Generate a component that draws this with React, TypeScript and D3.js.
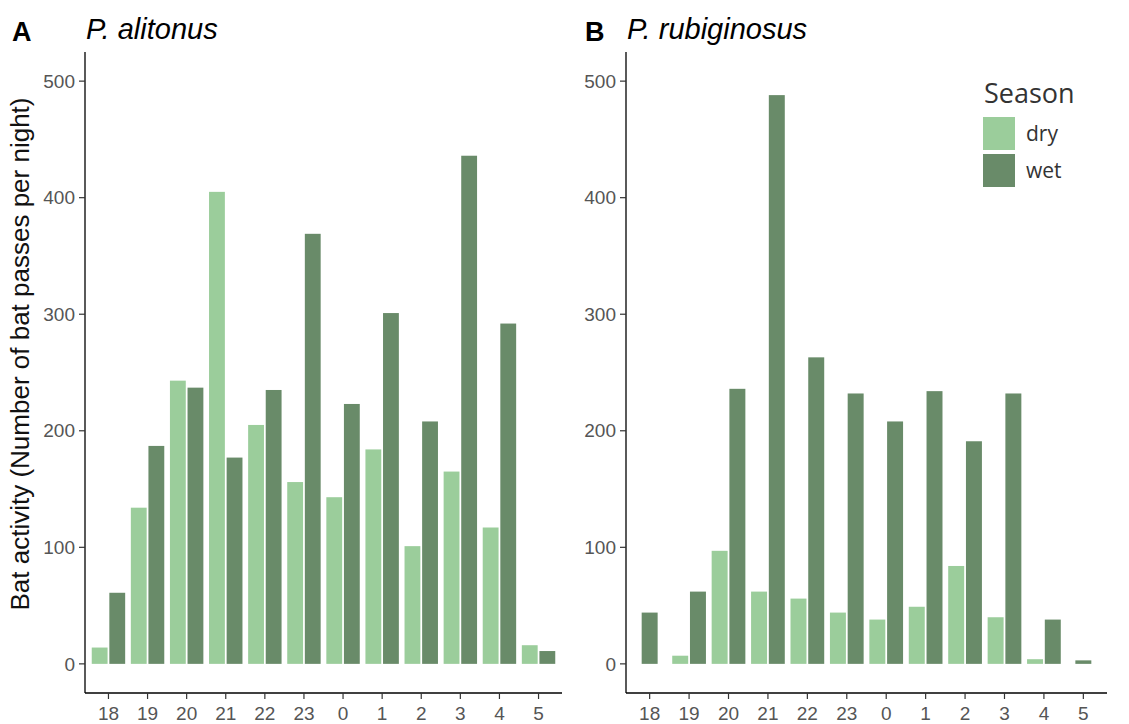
import { scaleLinear, scalePoint } from "d3";

const width = 1129;
const height = 724;

// hours of the night, shared by both panels
const hours = ["18", "19", "20", "21", "22", "23", "0", "1", "2", "3", "4", "5"];

// P. alitonus
const alitonusDry = [14, 134, 243, 405, 205, 156, 143, 184, 101, 165, 117, 16];
const alitonusWet = [61, 187, 237, 177, 235, 369, 223, 301, 208, 436, 292, 11];

// P. rubiginosus (null = no bar)
const rubiginosusDry = [null, 7, 97, 62, 56, 44, 38, 49, 84, 40, 4, null];
const rubiginosusWet = [44, 62, 236, 488, 263, 232, 208, 234, 191, 232, 38, 3];

const yTicks = [0, 100, 200, 300, 400, 500];
const seasons = ["dry", "wet"];
const seasonColors = ["#9bcd9b", "#698b69"];

const axisTop = 52;
const axisBottom = 693;
const y = scaleLinear().domain([-25, 525]).range([axisBottom, axisTop]);

const tickFont = "'Liberation Sans', Arial, sans-serif";

const Panel = ({ left, right, letterX, letter, title, dry, wet }) => {
  const x = scalePoint().domain(hours).range([left, right]).padding(0.6);
  const step = x.step();
  const barW = step * 0.405;
  const shift = step * 0.225;

  const bars = [];
  hours.forEach((h, i) => {
    const vals = [dry[i], wet[i]];
    const present = vals.filter((v) => v != null).length;
    vals.forEach((v, s) => {
      if (v == null) return;
      const cx = present === 2 ? x(h) + (s === 0 ? -shift : shift) : x(h);
      bars.push(
        <rect
          key={`${h}-${s}`}
          x={cx - barW / 2}
          y={y(v)}
          width={barW}
          height={y(0) - y(v)}
          fill={seasonColors[s]}
        />
      );
    });
  });

  return (
    <g>
      <text x={letterX} y={41} fontFamily={tickFont} fontWeight="bold" fontSize={27} fill="#000">
        {letter}
      </text>
      <text x={left + 1} y={39} fontFamily={tickFont} fontStyle="italic" fontSize={29} fill="#000">
        {title}
      </text>
      {bars}
      {/* y axis */}
      <line x1={left} x2={left} y1={axisTop} y2={axisBottom} stroke="#000" strokeWidth={1.3} />
      {yTicks.map((t) => (
        <g key={t}>
          <line x1={left - 6} x2={left} y1={y(t)} y2={y(t)} stroke="#333" strokeWidth={1.2} />
          <text
            x={left - 10}
            y={y(t)}
            dy="0.35em"
            textAnchor="end"
            fontFamily={tickFont}
            fontSize={19}
            fill="#555"
          >
            {t}
          </text>
        </g>
      ))}
      {/* x axis */}
      <line x1={left} x2={right} y1={axisBottom} y2={axisBottom} stroke="#000" strokeWidth={1.3} />
      {hours.map((h) => (
        <g key={h}>
          <line x1={x(h)} x2={x(h)} y1={axisBottom} y2={axisBottom + 6} stroke="#333" strokeWidth={1.2} />
          <text x={x(h)} y={720} textAnchor="middle" fontFamily={tickFont} fontSize={19} fill="#555">
            {h}
          </text>
        </g>
      ))}
    </g>
  );
};

export default function App() {
  return (
    <svg
      width={width}
      height={height}
      style={{ position: "absolute", left: 0, top: 0, background: "#fff" }}
    >
      <rect width={width} height={height} fill="#fff" />
      <text
        transform="translate(29,354) rotate(-90)"
        textAnchor="middle"
        fontFamily={tickFont}
        fontSize={26}
        fill="#111"
      >
        Bat activity (Number of bat passes per night)
      </text>
      <Panel
        left={85}
        right={562}
        letterX={12}
        letter="A"
        title="P. alitonus"
        dry={alitonusDry}
        wet={alitonusWet}
      />
      <Panel
        left={626}
        right={1107}
        letterX={585}
        letter="B"
        title="P. rubiginosus"
        dry={rubiginosusDry}
        wet={rubiginosusWet}
      />
      {/* legend */}
      <g fontFamily="'Open Sans', 'Noto Sans', sans-serif">
        <text x={984} y={103} fontSize={27} fill="#333">
          Season
        </text>
        {seasons.map((s, i) => (
          <g key={s}>
            <rect x={983} y={117 + i * 37} width={32} height={33} fill={seasonColors[i]} />
            <text x={1026} y={141 + i * 37} fontSize={21} fill="#333">
              {s}
            </text>
          </g>
        ))}
      </g>
    </svg>
  );
}
